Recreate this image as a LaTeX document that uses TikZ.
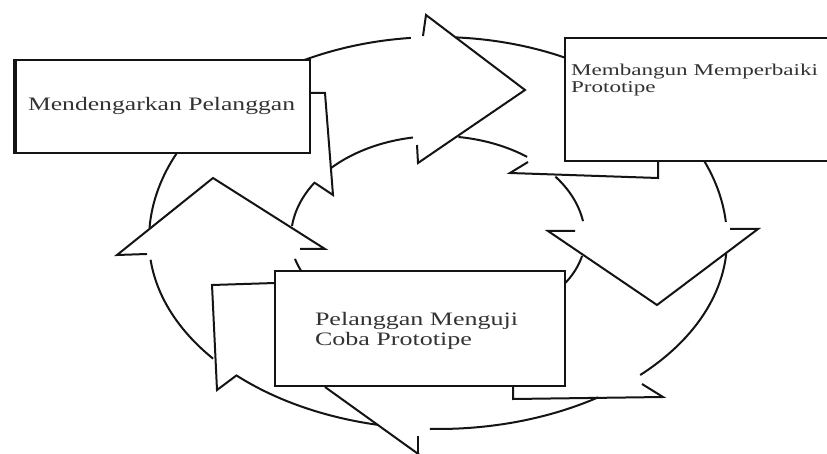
\documentclass[tikz,border=0pt]{standalone}
\usepackage{fontspec}
\setmainfont{Liberation Serif}
\newcommand\arcOU[2]{\draw[ln] plot[domain=#1:#2, samples=50] ({438+289*cos(\x)},{240-203*sin(\x)});}
\newcommand\arcOL[2]{\draw[ln] plot[domain=#1:#2, samples=50] ({438+289*cos(\x)},{240-189*sin(\x)});}
\newcommand\arcIU[2]{\draw[ln] plot[domain=#1:#2, samples=40] ({438+147*cos(\x)},{238-102*sin(\x)});}
\newcommand\arcIL[2]{\draw[ln] plot[domain=#1:#2, samples=40] ({438+147*cos(\x)},{238-90*sin(\x)});}
\begin{document}
\begin{tikzpicture}[x=1pt,y=-1pt,
  ln/.style={line width=2pt, line join=miter, line cap=butt, draw=black!92},
  boxnode/.style={draw=black!92, line width=2pt, fill=white, rectangle, inner sep=0pt, outer sep=0pt, anchor=north west},
  lbl/.style={anchor=base west, inner sep=0pt, outer sep=0pt, text=black!80}]
\useasboundingbox (0,0) rectangle (827,454);
\fill[white] (0,0) rectangle (827,454);
\clip (0,0) rectangle (827,454);

% ---- ring pieces (outer ellipse)
\arcOU{118}{95.4}
\arcOU{86.4}{62}
\arcOU{24}{5.1}
\arcOU{176.6}{152}
\arcOL{-4.2}{-45.6}
\arcOL{-56.4}{-91.6}
\arcOL{-102.2}{-134.1}
\arcOL{-141.1}{-174}

% ---- ring pieces (inner ellipse)
\arcIU{137}{99.8}
\arcIU{82}{52.7}
\arcIU{37}{9.5}
\arcIU{173.3}{146.8}
\arcIL{-11.5}{-32}
\arcIL{-166.6}{-150}

% ---- arrow tails (notches)
\draw[ln] (310,93) -- (325,93) -- (333,195) -- (315,183);
\draw[ln] (658,161) -- (658,178) -- (510,173) -- (528,162);
\draw[ln] (513,386) -- (513,399) -- (663,397) -- (642,384);
\draw[ln] (275,283) -- (212,285) -- (217,390) -- (237,375);

% ---- arrow heads
\draw[ln] (423,36) -- (426,15) -- (525,90) -- (418,163) -- (417,145);
\draw[ln] (575,231) -- (548,231) -- (657,305) -- (758,229) -- (730,229);
\draw[ln] (147,254) -- (117,255) -- (213,178) -- (325,249) -- (300,249);
\draw[ln] (325,387) -- (428,461);
\draw[ln] (418,436) -- (418,458);

% ---- boxes
\node[boxnode, minimum width=296pt, minimum height=93pt] (b1) at (14,60) {};
\draw[line width=4pt, draw=black!92] (15,59) -- (15,154);
\node[boxnode, minimum width=275pt, minimum height=123pt] (b2) at (565,38) {};
\node[boxnode, minimum width=290pt, minimum height=115pt] (b3) at (275,271) {};

% ---- labels
\node[lbl, font=\fontsize{19}{19}\selectfont] (t1) at (28,111) {\scalebox{1.35}[1]{Mendengarkan Pelanggan}};
\node[lbl, font=\fontsize{16.5}{16.5}\selectfont] (t2a) at (571,76) {\scalebox{1.4}[1]{Membangun Memperbaiki}};
\node[lbl, font=\fontsize{16.5}{16.5}\selectfont] (t2b) at (571,93) {\scalebox{1.4}[1]{Prototipe}};
\node[lbl, font=\fontsize{19}{19}\selectfont] (t3a) at (315,325) {\scalebox{1.37}[1]{Pelanggan Menguji}};
\node[lbl, font=\fontsize{19}{19}\selectfont] (t3b) at (315,345) {\scalebox{1.37}[1]{Coba Prototipe}};
\end{tikzpicture}
\end{document}
